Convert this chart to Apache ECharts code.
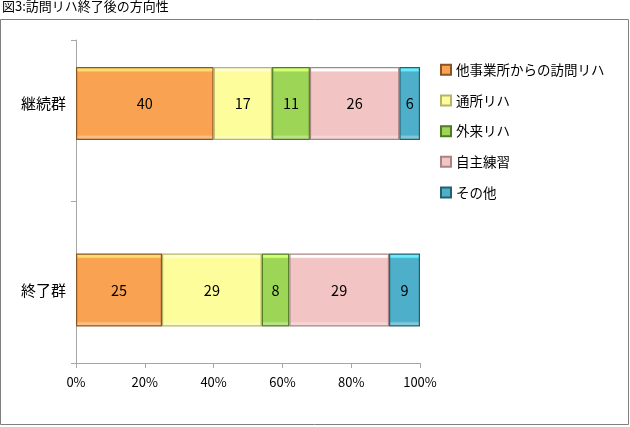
<!DOCTYPE html>
<html><head><meta charset="utf-8">
<script src="https://cdn.jsdelivr.net/npm/echarts@6/dist/echarts.min.js"></script>
<style>html,body{margin:0;padding:0;background:#fff}#c{width:630px;height:427px}</style>
</head><body><div id="c"></div>
<script>
const categories = ['継続群', '終了群'];
const seriesNames = ['他事業所からの訪問リハ', '通所リハ', '外来リハ', '自主練習', 'その他'];
const v0 = [40, 25];
const v1 = [17, 29];
const v2 = [11, 8];
const v3 = [26, 29];
const v4 = [6, 9];
const xTicks = ['0%', '20%', '40%', '60%', '80%', '100%'];
const titleText = '図3:訪問リハ終了後の方向性';

const values = [v0, v1, v2, v3, v4];
const colors = ['#F9A352', '#FDFD9C', '#9DD656', '#F2C4C3', '#4DAFCA'];
const borders = ['#8a5423', '#b5b56a', '#4f7a26', '#a88585', '#24606f'];
const font = '"Noto Sans CJK JP", "Noto Sans", sans-serif';

function grad(c) {
  return new echarts.graphic.LinearGradient(0, 0, 0, 1, [
    { offset: 0, color: echarts.color.lift(c, -0.35) },
    { offset: 0.05, color: echarts.color.lift(c, -0.35) },
    { offset: 0.07, color: c },
    { offset: 0.93, color: c },
    { offset: 0.95, color: echarts.color.lift(c, 0.3) },
    { offset: 1, color: echarts.color.lift(c, 0.3) }
  ]);
}

const chart = echarts.init(document.getElementById('c'));
chart.setOption({
  animation: false,
  textStyle: { fontFamily: font },
  graphic: [
    { type: 'text', left: 2, top: 0, style: { text: titleText, font: '13px ' + font, fill: '#000' } },
    { type: 'rect', shape: { x: 0.5, y: 19.5, width: 628, height: 405 }, style: { fill: 'none', stroke: '#7f7f7f', lineWidth: 1 } }
  ],
  grid: [
    { left: 76, right: 210, top: 40, bottom: 64 },
    { left: 76, right: 210, top: 10.25, bottom: 43.75 }
  ],
  legend: {
    orient: 'vertical', left: 435, top: 58, itemGap: 17.2,
    itemWidth: 10, itemHeight: 10, icon: 'rect',
    textStyle: { fontSize: 13.5, color: '#000', fontFamily: font },
    data: seriesNames
  },
  xAxis: [{
    gridIndex: 0, type: 'value', min: 0, max: 100, interval: 20,
    axisLine: { show: true, lineStyle: { color: '#a6a6a6' } },
    axisTick: { show: true, length: 5, lineStyle: { color: '#a6a6a6' } },
    splitLine: { show: false },
    axisLabel: { color: '#000', fontSize: 13, margin: 13, formatter: (v) => xTicks[v / 20] }
  }, {
    gridIndex: 1, type: 'value', min: 0, max: 100, show: false
  }],
  yAxis: [{
    gridIndex: 0, type: 'category', data: categories, inverse: true,
    axisLine: { show: true, lineStyle: { color: '#a6a6a6' } },
    axisTick: { show: true, length: 5, lineStyle: { color: '#a6a6a6' } },
    axisLabel: { show: false }
  }, {
    gridIndex: 1, type: 'category', data: categories, inverse: true,
    axisLine: { show: false }, axisTick: { show: false },
    axisLabel: { color: '#000', fontSize: 15, margin: 10 }
  }],
  series: seriesNames.map((n, i) => ({
    name: n, type: 'bar', stack: 'a', data: values[i], barWidth: 73,
    xAxisIndex: 1, yAxisIndex: 1,
    itemStyle: { color: grad(colors[i]), borderColor: borders[i], borderWidth: 1.2 },
    label: { show: true, position: 'inside', color: '#000', fontSize: 14.5 }
  }))
});
</script></body></html>
